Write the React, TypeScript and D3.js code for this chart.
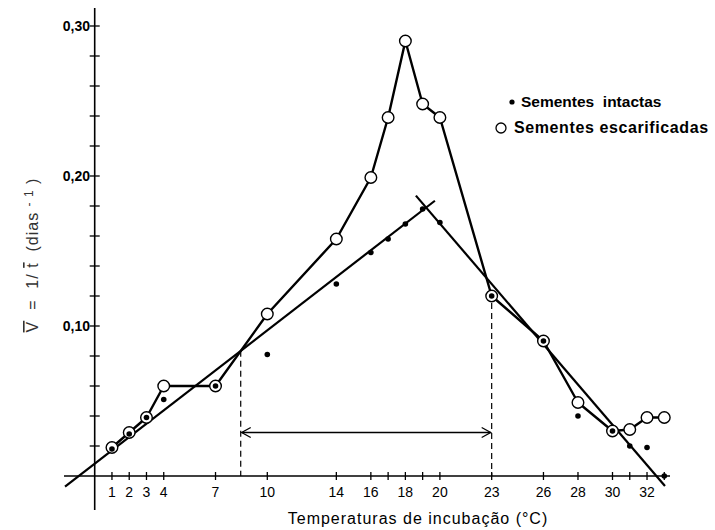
import React, { useEffect, useRef } from 'react'
import * as d3 from 'd3'

// incubation temperatures (°C)
const temps = [1, 2, 3, 4, 7, 10, 14, 16, 17, 18, 19, 20, 23, 26, 28, 30, 31, 32, 33]

// V = 1/t (dias-1)
const escarificadas = [0.019, 0.029, 0.039, 0.060, 0.060, 0.108, 0.158, 0.199, 0.239, 0.290, 0.248, 0.239, 0.120, 0.090, 0.049, 0.030, 0.031, 0.039, 0.039]
const intactas = [0.018, 0.028, 0.039, 0.051, 0.060, 0.081, 0.128, 0.149, 0.158, 0.168, 0.178, 0.169, 0.120, 0.090, 0.040, 0.030, 0.020, 0.019, 0.000]

// fitted lines for the intact seeds [temp, V]
const riseLine: [number, number][] = [[-1.72, -0.0071], [19.71, 0.1835]]
const fallLine: [number, number][] = [[18.61, 0.1869], [33.04, -0.0067]]

// optimum range marked with dashed lines and the arrow
const rangeStart = 8.46
const rangeEnd = 23
const arrowLevel = 0.029

const xTicks = [1, 2, 3, 4, 7, 10, 14, 16, 17, 18, 19, 20, 23, 26, 28, 30, 31, 32, 33]
const xLabels = [1, 2, 3, 4, 7, 10, 14, 16, 18, 20, 23, 26, 28, 30, 32]
const yTicks = d3.range(1, 16).map(i => i * 0.02)
const yLabels = [0.1, 0.2, 0.3]

const width = 715
const height = 530

const x = d3.scaleLinear().domain([0, 33]).range([94.7, 94.7 + 33 * 17.26])
const y = d3.scaleLinear().domain([0, 0.3]).range([476, 26])

const font = '"Liberation Sans", Arial, Helvetica, sans-serif'

function App() {
  const ref = useRef<SVGSVGElement>(null)

  useEffect(() => {
    const svg = d3.select(ref.current)
    svg.selectAll('*').remove()

    // axes
    svg.append('line')
      .attr('x1', 64).attr('x2', 670)
      .attr('y1', y(0)).attr('y2', y(0))
      .attr('stroke', '#000').attr('stroke-width', 1.6)
    svg.append('line')
      .attr('x1', x(0)).attr('x2', x(0))
      .attr('y1', 8).attr('y2', 510)
      .attr('stroke', '#000').attr('stroke-width', 1.6)

    svg.selectAll('.xtick')
      .data(xTicks).enter()
      .append('line')
        .attr('class', 'xtick')
        .attr('x1', d => x(d)).attr('x2', d => x(d))
        .attr('y1', y(0) - 4).attr('y2', y(0) + 4)
        .attr('stroke', '#000').attr('stroke-width', 1.3)

    svg.selectAll('.ytick')
      .data(yTicks).enter()
      .append('line')
        .attr('class', 'ytick')
        .attr('x1', x(0) - 5).attr('x2', x(0) + 5)
        .attr('y1', d => y(d)).attr('y2', d => y(d))
        .attr('stroke', '#000').attr('stroke-width', 1.3)

    svg.selectAll('.xlabel')
      .data(xLabels).enter()
      .append('text')
        .attr('class', 'xlabel')
        .attr('x', d => x(d))
        .attr('y', 497)
        .attr('text-anchor', 'middle')
        .attr('font-family', font)
        .attr('font-size', 14)
        .text(d => d)

    svg.selectAll('.ylabel')
      .data(yLabels).enter()
      .append('text')
        .attr('class', 'ylabel')
        .attr('x', 90)
        .attr('y', d => y(d) + 5)
        .attr('text-anchor', 'end')
        .attr('font-family', font)
        .attr('font-size', 14)
        .attr('font-weight', 'bold')
        .text(d => d3.format('.2f')(d).replace('.', ','))

    // axis titles
    svg.append('text')
      .attr('x', 418).attr('y', 524)
      .attr('text-anchor', 'middle')
      .attr('font-family', font)
      .attr('font-size', 16)
      .attr('letter-spacing', 1)
      .text('Temperaturas de incubação (°C)')

    const yt = svg.append('text')
      .attr('transform', 'translate(38,255) rotate(-90)')
      .attr('text-anchor', 'middle')
      .attr('font-family', font)
      .attr('font-size', 16)
      .attr('letter-spacing', 1)
      .attr('fill', '#333')
      .attr('xml:space', 'preserve')
    yt.append('tspan').style('text-decoration', 'overline').text('V')
    yt.append('tspan').text('  =  1/ ')
    yt.append('tspan').style('text-decoration', 'overline').text('t')
    yt.append('tspan').text('  (dias ')
    yt.append('tspan').attr('font-size', 12).attr('dy', -5).text('- 1')
    yt.append('tspan').attr('dy', 5).text(' )')

    // optimum range
    const dashed = [
      { t: rangeStart, top: riseLine[0][1] + (riseLine[1][1] - riseLine[0][1]) * (rangeStart - riseLine[0][0]) / (riseLine[1][0] - riseLine[0][0]) },
      { t: rangeEnd, top: escarificadas[temps.indexOf(rangeEnd)] }
    ]
    svg.selectAll('.dash')
      .data(dashed).enter()
      .append('line')
        .attr('class', 'dash')
        .attr('x1', d => x(d.t)).attr('x2', d => x(d.t))
        .attr('y1', (d, i) => y(d.top) + (i === 1 ? 7 : 0)).attr('y2', y(0))
        .attr('stroke', '#000').attr('stroke-width', 1.2)
        .attr('stroke-dasharray', '6,4')

    const ay = y(arrowLevel)
    const ax1 = x(rangeStart) + 1
    const ax2 = x(rangeEnd) - 1
    svg.append('line')
      .attr('x1', ax1).attr('x2', ax2)
      .attr('y1', ay).attr('y2', ay)
      .attr('stroke', '#000').attr('stroke-width', 1.3)
    svg.append('path')
      .attr('d', `M${ax1 + 9},${ay - 5}L${ax1},${ay}L${ax1 + 9},${ay + 5}M${ax2 - 9},${ay - 5}L${ax2},${ay}L${ax2 - 9},${ay + 5}`)
      .attr('fill', 'none').attr('stroke', '#000').attr('stroke-width', 1.3)

    // fitted lines
    const line = d3.line<[number, number]>().x(d => x(d[0])).y(d => y(d[1]))
    svg.selectAll('.fit')
      .data([riseLine, fallLine]).enter()
      .append('path')
        .attr('class', 'fit')
        .attr('d', d => line(d))
        .attr('fill', 'none').attr('stroke', '#000').attr('stroke-width', 2.2)

    // scarified seeds curve
    const esc = temps.map((t, i) => [t, escarificadas[i]] as [number, number])
    svg.append('path')
      .attr('d', line(esc))
      .attr('fill', 'none').attr('stroke', '#000').attr('stroke-width', 2.4)
      .attr('stroke-linejoin', 'round')

    svg.selectAll('.open')
      .data(esc).enter()
      .append('circle')
        .attr('class', 'open')
        .attr('cx', d => x(d[0])).attr('cy', d => y(d[1]))
        .attr('r', 5.8)
        .attr('fill', '#fff').attr('stroke', '#000').attr('stroke-width', 1.4)

    svg.selectAll('.dot')
      .data(temps.map((t, i) => [t, intactas[i]])).enter()
      .append('circle')
        .attr('class', 'dot')
        .attr('cx', d => x(d[0])).attr('cy', d => y(d[1]))
        .attr('r', 2.8)
        .attr('fill', '#000')

    // legend
    svg.append('circle').attr('cx', 512).attr('cy', 102).attr('r', 2.6).attr('fill', '#000')
    svg.append('circle').attr('cx', 501).attr('cy', 128).attr('r', 5)
      .attr('fill', '#fff').attr('stroke', '#000').attr('stroke-width', 1.3)
    svg.append('text')
      .attr('x', 521).attr('y', 107)
      .attr('font-family', font).attr('font-size', 15.5).attr('font-weight', 'bold')
      .attr('xml:space', 'preserve')
      .text('Sementes  intactas')
    svg.append('text')
      .attr('x', 514).attr('y', 133)
      .attr('font-family', font).attr('font-size', 16).attr('font-weight', 'bold')
      .attr('letter-spacing', 0.6)
      .text('Sementes escarificadas')
  }, [])

  return (
    <svg
      ref={ref}
      width={width}
      height={height}
      style={{ position: 'absolute', left: 0, top: 0, background: '#fff' }}
    />
  )
}

export default App
